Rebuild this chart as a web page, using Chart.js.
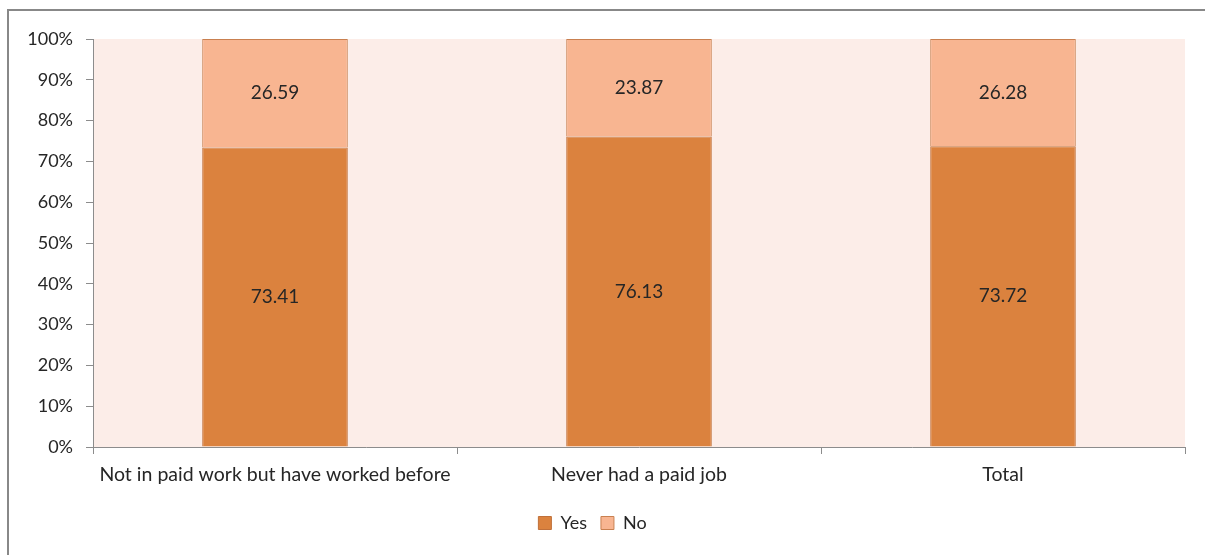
<!DOCTYPE html>
<html>
<head>
<meta charset="utf-8">
<script src="https://cdn.jsdelivr.net/npm/chart.js@4.4.0/dist/chart.umd.min.js"></script>
<style>
  html, body { margin: 0; padding: 0; background: #ffffff; }
  #wrap { width: 1205px; height: 555px; position: relative; }
</style>
</head>
<body>
<div id="wrap"><canvas id="chart"></canvas></div>
<script>
const categories = ['Not in paid work but have worked before', 'Never had a paid job', 'Total'];
const yesValues = [73.41, 76.13, 73.72];
const noValues = [26.59, 23.87, 26.28];
const yTicks = [0, 10, 20, 30, 40, 50, 60, 70, 80, 90, 100];

const FONT = 'Lato, "Liberation Sans", sans-serif';
const TEXT = '#262626';
const AXIS = '#8c8c8c';

// pale fill behind the plot and the frame around the whole chart
const frame = {
    id: 'frame',
    beforeDraw(chart) {
        const { ctx, chartArea: a } = chart;
        ctx.save();
        ctx.fillStyle = '#fcede8';
        ctx.fillRect(a.left, a.top, a.right - a.left, a.bottom - a.top);
        ctx.strokeStyle = '#888888';
        ctx.lineWidth = 2;
        ctx.beginPath();
        ctx.moveTo(8, chart.height);
        ctx.lineTo(8, 10);
        ctx.lineTo(chart.width, 10);
        ctx.stroke();
        ctx.restore();
    }
};

// value written in the middle of every segment
const segmentLabels = {
    id: 'segmentLabels',
    afterDatasetsDraw(chart) {
        const { ctx } = chart;
        ctx.save();
        ctx.font = '19px ' + FONT;
        ctx.fillStyle = TEXT;
        ctx.textAlign = 'center';
        ctx.textBaseline = 'middle';
        chart.data.datasets.forEach((ds, i) => {
            chart.getDatasetMeta(i).data.forEach((bar, j) => {
                const mid = (bar.y + bar.base) / 2;
                ctx.fillText(ds.data[j].toFixed(2), bar.x, mid);
            });
        });
        ctx.restore();
    }
};

new Chart(document.getElementById('chart'), {
    type: 'bar',
    data: {
        labels: categories,
        datasets: [
            {
                label: 'Yes',
                data: yesValues,
                backgroundColor: '#db823e',
                borderColor: '#c0703a',
                borderWidth: 1,
                categoryPercentage: 1,
                barPercentage: 0.4
            },
            {
                label: 'No',
                data: noValues,
                backgroundColor: '#f8b591',
                borderColor: '#c98050',
                borderWidth: 1,
                categoryPercentage: 1,
                barPercentage: 0.4
            }
        ]
    },
    options: {
        responsive: true,
        maintainAspectRatio: false,
        animation: false,
        layout: { padding: { left: 0, right: 20, top: 39, bottom: 13 } },
        plugins: {
            legend: {
                position: 'bottom',
                labels: {
                    boxWidth: 13,
                    boxHeight: 13,
                    color: TEXT,
                    font: { family: FONT, size: 18 },
                    padding: 14
                }
            },
            tooltip: { enabled: false }
        },
        scales: {
            x: {
                stacked: true,
                afterFit(scale) {
                    scale.height = 53;
                },
                grid: {
                    offset: true,
                    drawOnChartArea: false,
                    color: AXIS,
                    tickLength: 7
                },
                border: { color: AXIS, width: 1 },
                ticks: {
                    color: TEXT,
                    font: { family: FONT, size: 19.5 },
                    padding: 9,
                    maxRotation: 0
                }
            },
            y: {
                stacked: true,
                min: 0,
                max: 100,
                afterBuildTicks(scale) {
                    scale.ticks = yTicks.map(v => ({ value: v }));
                },
                afterFit(scale) {
                    scale.width = 93;
                },
                grid: {
                    drawOnChartArea: false,
                    color: AXIS,
                    tickLength: 7
                },
                border: { color: AXIS, width: 1 },
                ticks: {
                    color: TEXT,
                    font: { family: FONT, size: 18 },
                    padding: 13,
                    callback: v => v + '%'
                }
            }
        }
    },
    plugins: [frame, segmentLabels]
});
</script>
</body>
</html>
